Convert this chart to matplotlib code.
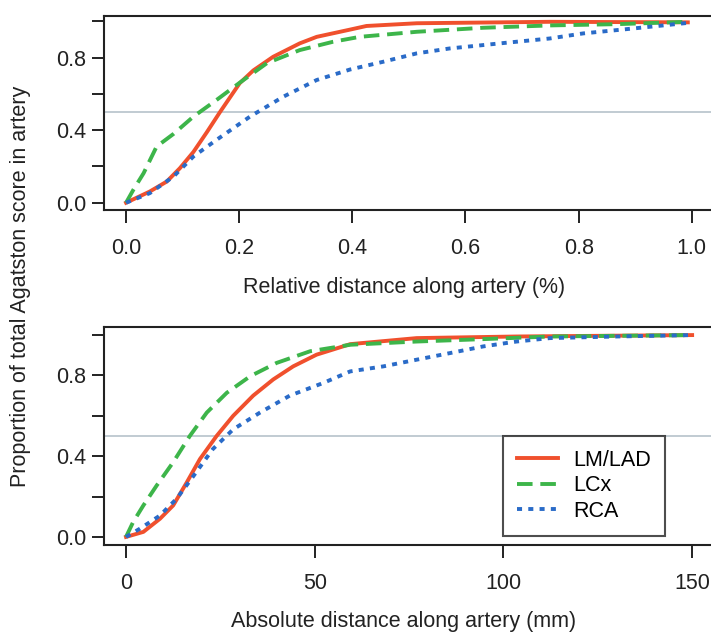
"""Cumulative Agatston score along coronary arteries (relative and absolute distance)."""

import matplotlib

matplotlib.use("Agg")
import matplotlib.pyplot as plt

plt.rcParams["font.family"] = ["Liberation Sans", "DejaVu Sans"]
plt.rcParams["font.size"] = 15.5

# relative distance panel
rel_lad_x = [0.0, 0.042, 0.072, 0.095, 0.119, 0.143, 0.166, 0.201, 0.225, 0.26, 0.307,
             0.337, 0.396, 0.425, 0.514, 0.749, 0.993]
rel_lad_y = [0.0, 0.062, 0.117, 0.19, 0.28, 0.39, 0.50, 0.66, 0.73, 0.805, 0.879,
             0.915, 0.955, 0.975, 0.99, 0.998, 0.995]
rel_lcx_x = [0.0, 0.013, 0.031, 0.054, 0.084, 0.119, 0.16, 0.2, 0.249, 0.307, 0.366,
             0.413, 0.514, 0.631, 0.749, 0.867, 0.993]
rel_lcx_y = [0.0, 0.072, 0.163, 0.31, 0.38, 0.475, 0.567, 0.66, 0.77, 0.842, 0.888,
             0.915, 0.943, 0.965, 0.978, 0.985, 0.998]
rel_rca_x = [0.0, 0.042, 0.084, 0.119, 0.16, 0.219, 0.278, 0.337, 0.396, 0.455, 0.514,
             0.572, 0.661, 0.749, 0.808, 0.896, 0.993]
rel_rca_y = [0.0, 0.053, 0.145, 0.255, 0.347, 0.475, 0.585, 0.677, 0.735, 0.778, 0.824,
             0.851, 0.879, 0.906, 0.934, 0.961, 0.992]

# absolute distance panel (mm)
abs_lad_x = [0, 4.6, 9.0, 12.5, 16.1, 19.6, 24.0, 28.4, 33.7, 39.0, 44.3, 50.5, 59.4,
             77, 103.5, 150]
abs_lad_y = [0.0, 0.025, 0.09, 0.156, 0.27, 0.386, 0.50, 0.60, 0.70, 0.78, 0.845, 0.903,
             0.955, 0.985, 0.993, 1.0]
abs_lcx_x = [0, 1.9, 4.6, 8.1, 12.5, 16.9, 21.4, 26.7, 32.9, 39.9, 48.8, 59.4, 77, 94.7,
             112.4, 150]
abs_lcx_y = [0.0, 0.074, 0.156, 0.254, 0.37, 0.50, 0.616, 0.714, 0.796, 0.862, 0.92,
             0.952, 0.968, 0.98, 0.993, 1.0]
abs_rca_x = [0, 3.7, 9.0, 13.4, 17.8, 23.0, 28.4, 35.5, 43.4, 52.3, 59.4, 68.2, 77, 85.9,
             94.7, 103.5, 112.3, 130, 150]
abs_rca_y = [0.0, 0.041, 0.106, 0.189, 0.30, 0.435, 0.533, 0.616, 0.70, 0.763, 0.82,
             0.845, 0.878, 0.911, 0.944, 0.968, 0.985, 0.993, 1.0]

series_names = ["LM/LAD", "LCx", "RCA"]
colors = ["#F0502D", "#3DB54A", "#2A6BC8"]
styles = [dict(ls="-"), dict(ls=(0, (4.0, 2.0))), dict(ls=(0, (1.3, 1.6)))]
y_ticks = [0.0, 0.2, 0.4, 0.6, 0.8, 1.0]
y_labels = ["0.0", "", "0.4", "", "0.8", ""]

fig = plt.figure(figsize=(7.11, 6.34), dpi=100)
ax_top = fig.add_axes([104 / 711, 1 - 210 / 634, 607 / 711, 194 / 634])
ax_bot = fig.add_axes([104 / 711, 1 - 545 / 634, 607 / 711, 218 / 634])

panels = [
    (ax_top, [(rel_lad_x, rel_lad_y), (rel_lcx_x, rel_lcx_y), (rel_rca_x, rel_rca_y)]),
    (ax_bot, [(abs_lad_x, abs_lad_y), (abs_lcx_x, abs_lcx_y), (abs_rca_x, abs_rca_y)]),
]
for ax, data in panels:
    ax.axhline(0.5, color="#BCC7CF", lw=1.3, zorder=1)
    for (xs, ys), name, col, st in zip(data, series_names, colors, styles):
        ax.plot(xs, ys, color=col, lw=2.8, label=name, zorder=3, **st)
    ax.spines["right"].set_visible(False)
    for side in ("left", "top", "bottom"):
        ax.spines[side].set_linewidth(1.5)
        ax.spines[side].set_color("#222222")
    ax.set_yticks(y_ticks)
    ax.set_yticklabels(y_labels)
    ax.tick_params(axis="y", direction="out", length=9, width=1.4, pad=4, color="#222222",
                   labelcolor="#222222")
    ax.tick_params(axis="x", direction="out", length=9, width=1.4, pad=11, color="#222222",
                   labelcolor="#222222")

ax_top.set_xlim(-0.039, 1.034)
ax_top.set_ylim(-0.04, 1.03)
ax_top.set_xticks([0.0, 0.2, 0.4, 0.6, 0.8, 1.0])
ax_top.set_xticklabels(["0.0", "0.2", "0.4", "0.6", "0.8", "1.0"])

ax_bot.set_xlim(-5.83, 155.0)
ax_bot.set_ylim(-0.04, 1.04)
ax_bot.set_xticks([0, 50, 100, 150])

fig.text(404 / 711, 1 - 287 / 634, "Relative distance along artery (%)",
         ha="center", va="center", color="#222222")
fig.text(404 / 711, 1 - 622 / 634, "Absolute distance along artery (mm)",
         ha="center", va="center", color="#222222")
fig.text(21 / 711, 1 - 286 / 634, "Proportion of total Agatston score in artery",
         ha="center", va="center", rotation=90, color="#222222")

leg = ax_bot.legend(
    loc="upper left",
    bbox_to_anchor=(503 / 711, 1 - 436 / 634),
    bbox_transform=fig.transFigure,
    frameon=True,
    fancybox=False,
    handlelength=1.9,
    handletextpad=0.7,
    labelspacing=0.2,
    borderpad=0.65,
    borderaxespad=0,
)
leg.get_frame().set_edgecolor("#222222")
leg.get_frame().set_linewidth(1.5)

fig.savefig("out.png", dpi=100)
plt.close(fig)
